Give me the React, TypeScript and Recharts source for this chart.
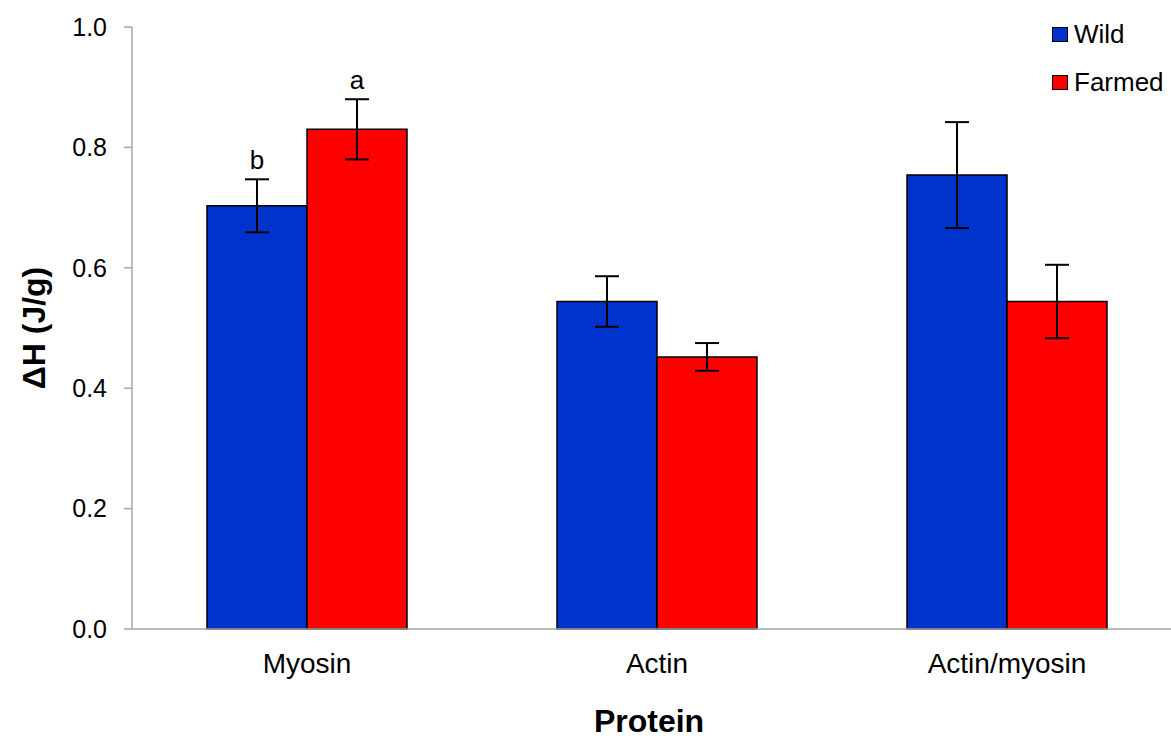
import { BarChart, Bar, XAxis, YAxis, ErrorBar, LabelList, Legend, Label } from "recharts";

const categories = ["Myosin", "Actin", "Actin/myosin"];
const wildValues = [0.703, 0.544, 0.754];
const farmedValues = [0.83, 0.452, 0.544];
const wildErrors = [0.044, 0.042, 0.088];
const farmedErrors = [0.05, 0.023, 0.061];
const wildLetters = ["b", "", ""];
const farmedLetters = ["a", "", ""];
const yTicks = [0, 0.2, 0.4, 0.6, 0.8, 1.0];
const edgeTicks = [0, 1, 2, 3];

const FONT = "'Liberation Sans', Arial, sans-serif";
const AXIS = "#a6a6a6";
const BLUE = "#0033cc";
const RED = "#ff0000";

const data = categories.map((name, i) => ({
  name,
  wild: wildValues[i],
  farmed: farmedValues[i],
  wildErr: wildErrors[i],
  farmedErr: farmedErrors[i],
}));

// letter sits just above the top of the error bar
function letterContent(letters: string[], errors: number[]) {
  return (props: any) => {
    const { x, y, width, height, value, index } = props;
    const text = letters[index];
    if (!text) return null;
    const perUnit = Number(height) / Number(value);
    const errTop = Number(y) - errors[index] * perUnit;
    return (
      <text
        x={Number(x) + Number(width) / 2}
        y={errTop - 10}
        textAnchor="middle"
        fontSize={26}
        fontFamily={FONT}
        fill="#000"
      >
        {text}
      </text>
    );
  };
}

function LegendBox() {
  const items = [
    { label: "Wild", color: BLUE, top: 27 },
    { label: "Farmed", color: RED, top: 75 },
  ];
  return (
    <div style={{ position: "relative", width: 131, height: 100, fontFamily: FONT }}>
      {items.map((it) => (
        <div key={it.label}>
          <div
            style={{
              position: "absolute",
              left: 12,
              top: it.top,
              width: 16,
              height: 15,
              boxSizing: "border-box",
              border: "1.5px solid #000",
              background: it.color,
            }}
          />
          <div
            style={{
              position: "absolute",
              left: 34,
              top: it.top - 6.5,
              fontSize: 26,
              lineHeight: "26px",
              color: "#000",
              whiteSpace: "nowrap",
            }}
          >
            {it.label}
          </div>
        </div>
      ))}
    </div>
  );
}

export default function App() {
  return (
    <div
      style={{
        position: "absolute",
        left: 0,
        top: 0,
        width: 1171,
        height: 738,
        overflow: "hidden",
        background: "#fff",
      }}
    >
      <BarChart
        width={1190}
        height={738}
        data={data}
        margin={{ top: 27, right: 8, bottom: 0, left: 0 }}
        barCategoryGap={75}
        barGap={0}
      >
        {/* numeric axis only for the axis line and ticks at category edges */}
        <XAxis
          xAxisId={0}
          type="number"
          domain={[0, 3]}
          ticks={edgeTicks}
          allowDataOverflow
          height={1}
          tick={false}
          tickSize={8}
          stroke={AXIS}
          strokeWidth={1.5}
        />
        <XAxis
          xAxisId="cat"
          dataKey="name"
          height={108}
          axisLine={false}
          tickLine={false}
          tickSize={8}
          tickMargin={15}
          tick={{ fontSize: 28, fontFamily: FONT, fill: "#000" }}
        >
          <Label
            content={() => (
              <text
                x={649}
                y={732}
                textAnchor="middle"
                fontSize={32}
                fontWeight="bold"
                fontFamily={FONT}
                fill="#000"
              >
                Protein
              </text>
            )}
          />
        </XAxis>
        <YAxis
          width={132}
          domain={[0, 1]}
          ticks={yTicks}
          interval={0}
          tickFormatter={(v: number) => v.toFixed(1)}
          tickSize={8}
          tickMargin={17}
          stroke={AXIS}
          strokeWidth={1.5}
          tick={{ fontSize: 25, fontFamily: FONT, fill: "#000" }}
        >
          <Label
            content={() => (
              <text
                x={45}
                y={328}
                transform="rotate(-90 45 328)"
                textAnchor="middle"
                fontSize={32}
                fontWeight="bold"
                fontFamily={FONT}
                fill="#000"
              >
                ΔH (J/g)
              </text>
            )}
          />
        </YAxis>
        <Legend
          layout="vertical"
          align="center"
          verticalAlign="middle"
          wrapperStyle={{ left: 1040, top: 0, width: 131, height: 100 }}
          content={() => <LegendBox />}
        />
        <Bar xAxisId="cat" dataKey="wild" name="Wild" fill={BLUE} stroke="#000" strokeWidth={1.5} isAnimationActive={false}>
          <ErrorBar dataKey="wildErr" width={12} stroke="#000" strokeWidth={2} direction="y" />
          <LabelList dataKey="wild" content={letterContent(wildLetters, wildErrors)} />
        </Bar>
        <Bar xAxisId="cat" dataKey="farmed" name="Farmed" fill={RED} stroke="#000" strokeWidth={1.5} isAnimationActive={false}>
          <ErrorBar dataKey="farmedErr" width={12} stroke="#000" strokeWidth={2} direction="y" />
          <LabelList dataKey="farmed" content={letterContent(farmedLetters, farmedErrors)} />
        </Bar>
      </BarChart>
    </div>
  );
}
